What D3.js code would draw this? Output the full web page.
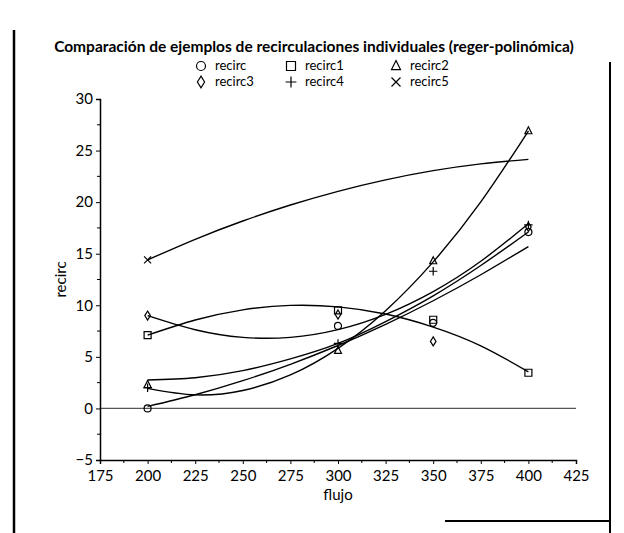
<!DOCTYPE html>
<html><head><meta charset="utf-8">
<script src="https://cdn.jsdelivr.net/npm/d3@7"></script>
<style>body{margin:0;background:#fff}svg{display:block}</style>
</head><body><svg id="c" width="624" height="533"></svg>
<script>
// ---- data ----
const xPoints = [200, 300, 350, 400];
const seriesNames = ["recirc", "recirc1", "recirc2", "recirc3", "recirc4", "recirc5"];
const recirc  = [0.0, 8.0, 8.3, 17.1];
const recirc1 = [7.1, 9.5, 8.6, 3.46];
const recirc2 = [2.3, 5.6, 14.3, 26.9];
const recirc3 = [9.0, 9.1, 6.5, 17.6];
const recirc4 = [2.0, 6.3, 13.3, 17.8];
const recirc5 = [14.4, null, null, null];
// fitted (polynomial regression) curves
const fitX = [200, 225, 250, 275, 300, 325, 350, 375, 400];
const fitRecirc  = [0.2, 1.33, 2.69, 4.28, 6.1, 8.15, 10.44, 12.96, 15.7];
const fitRecirc1 = [7.1, 8.57, 9.56, 9.99, 9.85, 9.15, 7.89, 6.07, 3.55];
const fitRecirc2 = [1.95, 1.31, 1.74, 3.25, 5.83, 9.48, 14.21, 20.02, 26.9];
const fitRecirc3 = [9.0, 7.63, 6.89, 6.89, 7.64, 9.12, 11.33, 14.27, 17.9];
const fitRecirc4 = [2.76, 2.98, 3.66, 4.80, 6.3, 8.42, 10.92, 13.86, 17.1];
const fitRecirc5 = [14.4, 16.4, 18.17, 19.72, 21.05, 22.16, 23.05, 23.71, 24.15];
const xTicks = [175, 200, 225, 250, 275, 300, 325, 350, 375, 400, 425];
const yTicks = [-5, 0, 5, 10, 15, 20, 25, 30];
const title = "Comparación de ejemplos de recirculaciones individuales (reger-polinómica)";

const pointData = [recirc, recirc1, recirc2, recirc3, recirc4, recirc5];
const fitData = [fitRecirc, fitRecirc1, fitRecirc2, fitRecirc3, fitRecirc4, fitRecirc5];
const symbols = ["circle", "square", "triangle", "diamond", "plus", "cross"];

const FONT = "Lato, 'Open Sans', sans-serif";
const svg = d3.select("#c");
const x = d3.scaleLinear().domain([175, 425]).range([100, 576]);
const y = d3.scaleLinear().domain([-5, 30]).range([460, 99]);

// frame (scanned page box: left edge, right edge, bottom-right rule)
const frame = svg.append("g").attr("stroke", "#000").attr("fill", "none");
frame.append("line").attr("x1", 14).attr("x2", 14).attr("y1", 30).attr("y2", 533).attr("stroke-width", 2.5);
frame.append("line").attr("x1", 610).attr("x2", 610).attr("y1", 62).attr("y2", 533).attr("stroke-width", 2);
frame.append("line").attr("x1", 445).attr("x2", 610).attr("y1", 521).attr("y2", 521).attr("stroke-width", 2);

// title
svg.append("text").attr("x", 314).attr("y", 52).attr("text-anchor", "middle")
  .attr("font-family", FONT).attr("font-weight", "bold").attr("font-size", 15.5).text(title);

function marker(g, type, cx, cy, s) {
  const p = g.append("path").attr("fill", "none").attr("stroke", "#000").attr("stroke-width", 1.2);
  let d;
  if (type === "circle") d = `M${cx - s},${cy}a${s},${s} 0 1,0 ${2 * s},0a${s},${s} 0 1,0 ${-2 * s},0`;
  else if (type === "square") d = `M${cx - s},${cy - s}h${2 * s}v${2 * s}h${-2 * s}Z`;
  else if (type === "triangle") d = `M${cx},${cy - s * 1.2}L${cx + s},${cy + s * 0.8}L${cx - s},${cy + s * 0.8}Z`;
  else if (type === "diamond") d = `M${cx},${cy - s * 1.3}L${cx + s * 0.8},${cy}L${cx},${cy + s * 1.3}L${cx - s * 0.8},${cy}Z`;
  else if (type === "plus") d = `M${cx - s * 1.2},${cy}h${2.4 * s}M${cx},${cy - s * 1.2}v${2.4 * s}`;
  else d = `M${cx - s},${cy - s}L${cx + s},${cy + s}M${cx + s},${cy - s}L${cx - s},${cy + s}`;
  p.attr("d", d);
}

// legend
const legCols = [215, 305, 410];
seriesNames.forEach((n, i) => {
  const col = i % 3, row = Math.floor(i / 3);
  const lx = legCols[col], ly = 70 + row * 16;
  marker(svg, symbols[i], lx - 14, ly - 4, 4.5);
  svg.append("text").attr("x", lx).attr("y", ly).attr("font-family", FONT).attr("font-size", 13).text(n);
});

// zero line
svg.append("line").attr("x1", x(175)).attr("x2", x(425)).attr("y1", y(0)).attr("y2", y(0))
  .attr("stroke", "#555").attr("stroke-width", 1.3);

// axes
const xAxis = d3.axisBottom(x).tickValues(xTicks).tickSize(4).tickFormat(d3.format("d"));
const gx = svg.append("g").attr("transform", `translate(0,${y(-5)})`).call(xAxis);
const yAxis = d3.axisLeft(y).tickValues(yTicks).tickSize(4).tickFormat(d => d < 0 ? "\u2212" + Math.abs(d) : d);
const gy = svg.append("g").attr("transform", `translate(${x(175)},0)`).call(yAxis);
[gx, gy].forEach(g => {
  g.select(".domain").attr("stroke", "#000").attr("stroke-width", 1.5);
  g.selectAll("text").attr("font-family", FONT).attr("font-size", 15).attr("fill", "#000");
  g.selectAll(".tick line").attr("stroke", "#000");
});
gx.selectAll("text").attr("dy", "0.95em");
// minor ticks
const xMinor = d3.range(187.5, 425, 25);
svg.append("g").selectAll("line").data(xMinor).join("line")
  .attr("x1", d => x(d)).attr("x2", d => x(d)).attr("y1", y(-5)).attr("y2", y(-5) + 3).attr("stroke", "#000");
const yMinor = d3.range(-2.5, 30, 5);
svg.append("g").selectAll("line").data(yMinor).join("line")
  .attr("x1", x(175) - 3).attr("x2", x(175)).attr("y1", d => y(d)).attr("y2", d => y(d)).attr("stroke", "#000");

// axis titles
svg.append("text").attr("x", 338).attr("y", 500).attr("text-anchor", "middle")
  .attr("font-family", FONT).attr("font-size", 15).text("flujo");
svg.append("text").attr("transform", `translate(66,${y(12.5)}) rotate(-90)`).attr("text-anchor", "middle")
  .attr("font-family", FONT).attr("font-size", 15).text("recirc");

// fit curves
const line = d3.line().x((d, i) => x(fitX[i])).y(d => y(d)).curve(d3.curveNatural);
fitData.forEach(f => {
  svg.append("path").attr("d", line(f)).attr("fill", "none").attr("stroke", "#000").attr("stroke-width", 1.4);
});

// points
pointData.forEach((arr, si) => {
  arr.forEach((v, i) => {
    if (v === null) return;
    marker(svg, symbols[si], x(xPoints[i]), y(v), 3.5);
  });
});
</script></body></html>
